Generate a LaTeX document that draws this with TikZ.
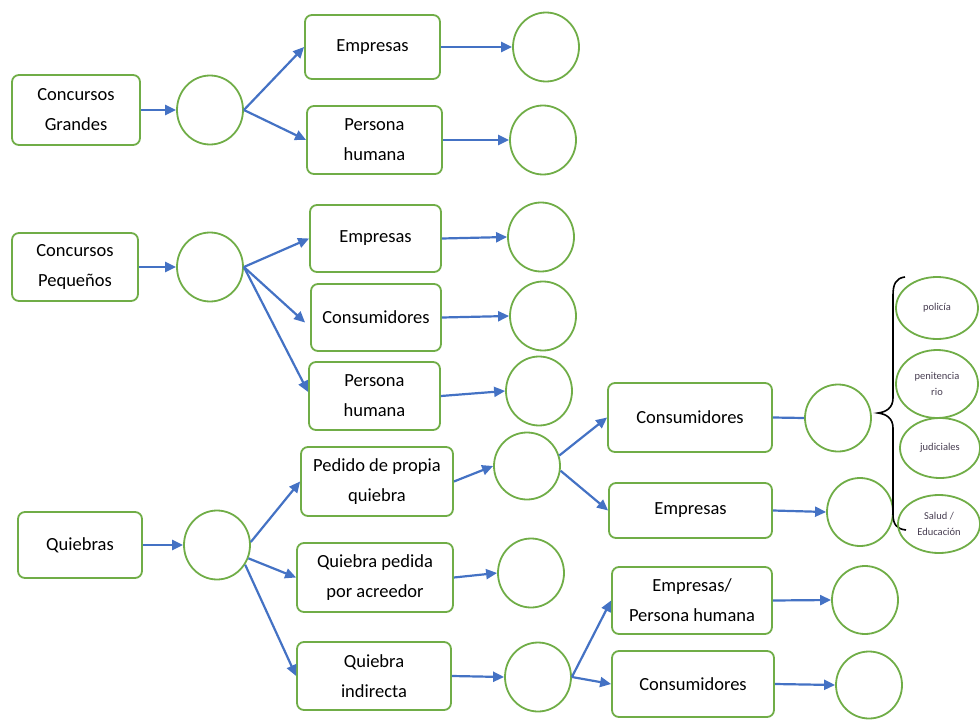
\documentclass[tikz,border=0pt]{standalone}
\usepackage{fontspec}
\setmainfont{Carlito}
\usetikzlibrary{arrows.meta,shapes.geometric}
\definecolor{boxgreen}{RGB}{112,173,71}
\definecolor{arrowblue}{RGB}{68,114,196}
\definecolor{smalltext}{RGB}{70,60,80}
\begin{document}
\begin{tikzpicture}[x=1pt,y=-1pt,
  box/.style={draw=boxgreen, line width=1.8pt, rounded corners=7pt, fill=white,
    align=center, inner sep=0pt, font=\fontsize{18.5}{30}\selectfont},
  ring/.style={draw=boxgreen, line width=1.8pt, ellipse, inner sep=0pt,
    minimum width=66pt, minimum height=69pt},
  oval/.style={draw=boxgreen, line width=1.8pt, ellipse, inner sep=0pt, align=center,
    text=smalltext, font=\fontsize{10.5}{16}\selectfont},
  link/.style={draw=arrowblue, line width=2.2pt, -{Triangle[length=11pt,width=10pt]}},
  plainlink/.style={draw=arrowblue, line width=2.2pt}]
\useasboundingbox (0,0) rectangle (980,720);

% --- Concursos Grandes branch
\node[box, minimum width=128pt, minimum height=70pt] (cg) at (76,110) {Concursos\\Grandes};
\node[ring] (cgc) at (210,110) {};
\node[box, minimum width=135pt, minimum height=64pt] (cgemp) at (372.5,47) {Empresas};
\node[box, minimum width=135pt, minimum height=68pt] (cgper) at (374.5,140) {Persona\\humana};
\node[ring] (cgempc) at (546,47) {};
\node[ring] (cgperc) at (543,140) {};

\draw[link] (cg.east) -- (cgc.west);
\draw[link] (cgc.east) -- (cgemp.west);
\draw[link] (cgc.east) -- (cgper.west);
\draw[link] (cgemp.east) -- (cgempc.west);
\draw[link] (cgper.east) -- (cgperc.west);

% --- Concursos Pequeños branch
\node[box, minimum width=126pt, minimum height=68pt] (cp) at (75,267) {Concursos\\Pequeños};
\node[ring] (cpc) at (210,267) {};
\node[box, minimum width=131pt, minimum height=67pt] (cpemp) at (375.5,238.5) {Empresas};
\node[box, minimum width=130pt, minimum height=67pt] (cpcon) at (376,317.5) {Consumidores};
\node[box, minimum width=131pt, minimum height=68pt] (cpper) at (374.5,396) {Persona\\humana};
\node[ring] (cpempc) at (541,237) {};
\node[ring] (cpconc) at (543,316) {};
\node[ring] (cpperc) at (539,391) {};

\draw[link] (cp.east) -- (cpc.west);
\draw[link] (cpc.east) -- (cpemp.west);
\draw[link] (cpc.east) -- ([xshift=-5pt,yshift=-5pt]cpcon.west);
\draw[link] (cpc.east) -- ([yshift=4pt]cpper.west);
\draw[link] (cpemp.east) -- (cpempc.west);
\draw[link] (cpcon.east) -- (cpconc.west);
\draw[link] (cpper.east) -- (cpperc.west);

% --- Quiebras branch
\node[box, minimum width=124pt, minimum height=66pt] (qb) at (80,545) {Quiebras};
\node[ring] (qbc) at (217,545) {};
\node[box, minimum width=152pt, minimum height=69pt] (qped) at (377,481.5) {Pedido de propia\\quiebra};
\node[box, minimum width=156pt, minimum height=69pt] (qacr) at (375,577.5) {Quiebra pedida\\por acreedor};
\node[box, minimum width=154pt, minimum height=68pt] (qind) at (374,676) {Quiebra\\indirecta};
\node[ring, minimum height=67pt] (qpedc) at (527,466) {};
\node[ring] (qacrc) at (531,573) {};
\node[ring] (qindc) at (538,677) {};

\draw[link] (qb.east) -- (qbc.west);
\draw[link] (qbc.5) -- (qped.west);
\draw[link] (qbc.-23) -- (qacr.west);
\draw[link] (qbc.-35) -- (qind.west);
\draw[link] (qped.east) -- (qpedc.west);
\draw[link] (qacr.east) -- (qacrc.west);
\draw[link] (qind.east) -- (qindc.west);

% second level after "Pedido de propia quiebra"
\node[box, minimum width=164pt, minimum height=69pt] (pcon) at (690,417.5) {Consumidores};
\node[box, minimum width=163pt, minimum height=55pt] (pemp) at (690.5,510.5) {Empresas};
\node[ring, minimum height=67pt] (pconc) at (838,418) {};
\node[ring, minimum height=68pt] (pempc) at (860,512) {};

\draw[link] (qpedc.18) -- (pcon.west);
\draw[link] (qpedc.-8) -- (pemp.west);
\draw[plainlink] (pcon.east) -- (pconc.west);
\draw[link] (pemp.east) -- (pempc.west);

% second level after "Quiebra indirecta"
\node[box, minimum width=160pt, minimum height=67pt] (iemp) at (692,600.5) {Empresas/\\Persona humana};
\node[box, minimum width=162pt, minimum height=66pt] (icon) at (693,684) {Consumidores};
\node[ring, minimum height=68pt] (iempc) at (865,600) {};
\node[ring, minimum height=67pt] (iconc) at (869,685) {};

\draw[link] (qindc.east) -- (iemp.west);
\draw[link] (qindc.east) -- (icon.west);
\draw[link] (iemp.east) -- (iempc.west);
\draw[link] (icon.east) -- (iconc.west);

% --- brace and the four ovals
\draw[line width=1.6pt] (905,277) .. controls (896,278) and (893,284) .. (893,295)
  -- (893,398) .. controls (893,408) and (886,412) .. (878,413)
  .. controls (886,414) and (893,418) .. (893,428)
  -- (893,514) .. controls (893,525) and (897,529) .. (906,530);

\node[oval, minimum width=82pt, minimum height=62pt] (pol) at (937,308) {policía};
\node[oval, minimum width=82pt, minimum height=68pt] (pen) at (937,384) {penitencia\\rio};
\node[oval, minimum width=80pt, minimum height=60pt] (jud) at (940,448) {judiciales};
\node[oval, minimum width=82pt, minimum height=58pt] (sal) at (939,524) {Salud /\\Educación};
\end{tikzpicture}
\end{document}
